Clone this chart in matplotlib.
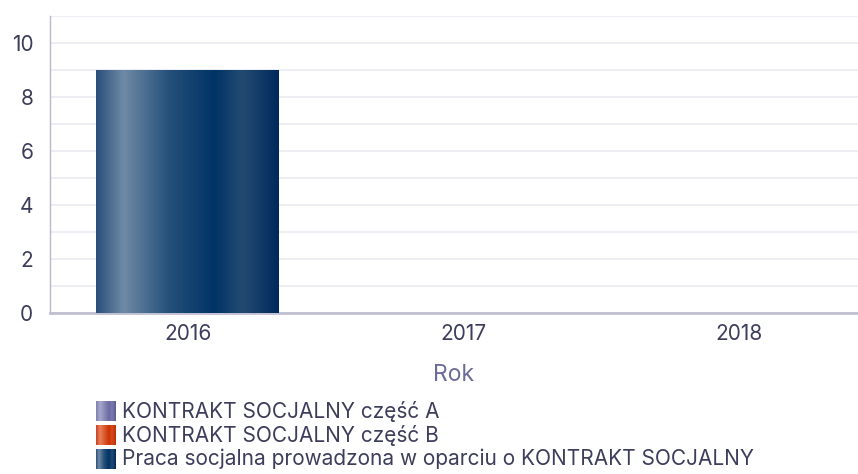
import numpy as np
import matplotlib
matplotlib.use("Agg")
import matplotlib.pyplot as plt
from matplotlib.colors import LinearSegmentedColormap
from matplotlib.patches import Rectangle

plt.rcParams['font.family'] = ['Inter', 'DejaVu Sans']

categories = ["2016", "2017", "2018"]
series_names = ["KONTRAKT SOCJALNY część A", "KONTRAKT SOCJALNY część B",
                "Praca socjalna prowadzona w oparciu o KONTRAKT SOCJALNY"]
series_values = [
    [0, 0, 0],
    [0, 0, 0],
    [9, 0, 0],
]
y_ticks = [0, 2, 4, 6, 8, 10]
x_title = "Rok"

gradients = [
    [(0.0, "#8080b0"), (0.2, "#a8a8cc"), (0.65, "#6b6ba3"), (0.8, "#7a7aae"), (1.0, "#5c5c96")],
    [(0.0, "#c84020"), (0.2, "#e8805c"), (0.65, "#cc3300"), (0.8, "#d44a1c"), (1.0, "#bb2e00")],
    [(0.0, "#2a4f7a"), (0.15, "#6f8aa5"), (0.4, "#25507a"), (0.65, "#003366"), (0.8, "#234b72"), (1.0, "#002a5c")],
]
cmaps = [LinearSegmentedColormap.from_list(f"g{i}", g) for i, g in enumerate(gradients)]

W, H = 858, 474
fig = plt.figure(figsize=(W / 100, H / 100), dpi=100)
left, right, top, bottom = 50, 858, 16, 313
ax = fig.add_axes([left / W, 1 - bottom / H, (right - left) / W, (bottom - top) / H])

cat_w = 275.5
grad = np.linspace(0, 1, 256).reshape(1, -1)
bw = 0.664
x = np.arange(len(categories))
base = np.zeros(len(categories))
for si, vals in enumerate(series_values):
    for xi, v in zip(x, vals):
        if v > 0:
            x0, x1 = xi - bw / 2, xi + bw / 2
            im = ax.imshow(grad, cmap=cmaps[si], aspect='auto',
                           extent=[x0, x1, base[xi], base[xi] + v], zorder=3)
            rect = Rectangle((x0, base[xi]), bw, v, transform=ax.transData,
                             facecolor='none', edgecolor='none')
            ax.add_patch(rect)
            im.set_clip_path(rect)
    base = base + np.array(vals)
ax.set_xlim(-0.5, -0.5 + (right - left) / cat_w)
ax.set_ylim(0, 11)

ax.yaxis.grid(True, color="#ececf3", linewidth=1.3, zorder=0)
ax.set_yticks(np.arange(0, 12, 1))
ax.set_yticklabels([str(t) if t in y_ticks else "" for t in range(12)])
ax.set_xticks(x)
ax.set_xticklabels(categories)
ax.tick_params(axis='both', length=0, labelsize=15, labelcolor="#3d3d5c")
ax.tick_params(axis='y', pad=12)
ax.tick_params(axis='x', pad=8)
for s in ['top', 'right']:
    ax.spines[s].set_visible(False)
ax.spines['left'].set_color("#b8b8d0")
ax.spines['left'].set_linewidth(1)
ax.spines['bottom'].set_color("#c0c0d2")
ax.spines['bottom'].set_linewidth(2)
ax.set_axisbelow(True)

ax.set_xlabel(x_title, fontsize=16.5, color="#6b6b99", labelpad=14)

# legend
for i, name in enumerate(series_names):
    yc = 411 + i * 24
    lax = fig.add_axes([96 / W, 1 - (yc + 10) / H, 20 / W, 20 / H])
    lax.imshow(grad, cmap=cmaps[i], aspect='auto', extent=[0, 1, 0, 1])
    lax.set_axis_off()
    fig.text(122 / W, 1 - yc / H, name, fontsize=15, color="#3d3d5c",
             va='center', ha='left')

fig.savefig("out.png", dpi=100)
